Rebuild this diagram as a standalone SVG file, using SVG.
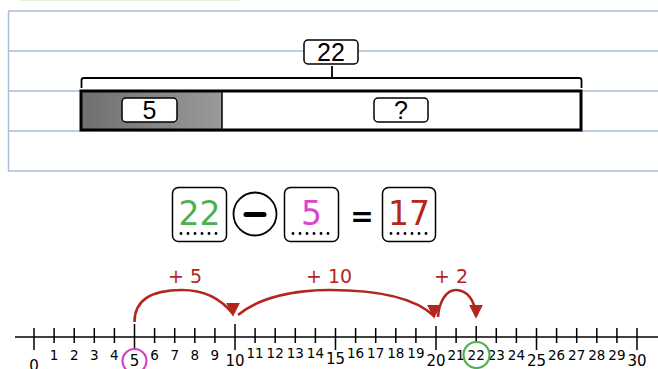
<svg xmlns="http://www.w3.org/2000/svg" width="658" height="369" viewBox="0 0 658 369">
<defs>
<linearGradient id="gray" x1="0" y1="0" x2="1" y2="0">
<stop offset="0" stop-color="#6f6f6f"/><stop offset="1" stop-color="#9a9a9a"/>
</linearGradient>
<marker id="ah" viewBox="0 0 10 10" refX="5" refY="8" markerWidth="16" markerHeight="14" markerUnits="userSpaceOnUse" orient="0">
<path d="M0,0 L10,0 L5,10 Z" fill="#b3261e"/>
</marker>
</defs>
<style>
.grid{stroke:#a9bedb;stroke-width:1.5;fill:none}
.lbl{fill:#fff;stroke:#000;stroke-width:1.5}
.tt{font-family:"Liberation Sans",Arial,sans-serif;font-size:25px;text-anchor:middle;fill:#000}
.eqbox{fill:#fff;stroke:#000;stroke-width:1.5}
.eqt{font-family:"DejaVu Sans","Open Sans",sans-serif;font-size:33px;text-anchor:middle}
.dot{fill:#000}
.arc{fill:none;stroke:#b3261e;stroke-width:2.6}
.pl{font-family:"DejaVu Sans","Open Sans",sans-serif;font-size:19px;fill:#b3261e;text-anchor:middle}
.tk{stroke:#000;stroke-width:1.5}
.nm{font-family:"DejaVu Sans","Open Sans",sans-serif;font-size:13.5px;text-anchor:middle;fill:#000}
.nM{font-family:"DejaVu Sans","Open Sans",sans-serif;font-size:15px;text-anchor:middle;fill:#000}
</style>
<line x1="20" y1="0.5" x2="240" y2="0.5" stroke="#e4efdc" stroke-width="1"/>
<g id="paper">
<path class="grid" d="M8,11H658M8,51H658M8,91H658M8,131H658M8,171H658M8.5,11V171"/>
</g>
<g id="tape">
<rect x="81" y="91" width="141" height="39" fill="url(#gray)"/>
<rect x="222" y="91" width="359" height="39" fill="#fff"/>
<rect x="81" y="91" width="500" height="39" fill="none" stroke="#000" stroke-width="3"/>
<line x1="222" y1="91" x2="222" y2="130" stroke="#000" stroke-width="1.5"/>
<path d="M81.5,88V80Q81.5,78 84,78H579Q581.5,78 581.5,80V88M332,78V66" fill="none" stroke="#000" stroke-width="1.8"/>
</g>
<g id="label-22"><rect class="lbl" x="304" y="40" width="54" height="24" rx="4"/><text class="tt" x="331" y="61">22</text></g>
<g id="label-5"><rect class="lbl" x="122" y="98" width="55" height="24" rx="4"/><text class="tt" x="149.5" y="119">5</text></g>
<g id="label-q"><rect class="lbl" x="374" y="98" width="54" height="24" rx="4"/><text class="tt" x="401" y="119">?</text></g>
<g id="eq-22"><rect class="eqbox" x="172.5" y="187.5" width="54" height="54" rx="6"/><text class="eqt" x="199.5" y="225" fill="#4caf50">22</text>
<g class="dot"><circle cx="181" cy="233.5" r="1.4"/><circle cx="188" cy="233.5" r="1.4"/><circle cx="195" cy="233.5" r="1.4"/><circle cx="202" cy="233.5" r="1.4"/><circle cx="209" cy="233.5" r="1.4"/><circle cx="216" cy="233.5" r="1.4"/></g></g>
<g id="eq-minus"><circle cx="255" cy="214" r="21.5" fill="#fff" stroke="#000" stroke-width="1.8"/><line x1="246" y1="214.5" x2="264" y2="214.5" stroke="#000" stroke-width="5" stroke-linecap="round"/></g>
<g id="eq-5"><rect class="eqbox" x="284.5" y="187.5" width="54" height="54" rx="6"/><text class="eqt" x="311.5" y="225" fill="#dd45cf">5</text>
<g class="dot"><circle cx="293" cy="233.5" r="1.4"/><circle cx="300" cy="233.5" r="1.4"/><circle cx="307" cy="233.5" r="1.4"/><circle cx="314" cy="233.5" r="1.4"/><circle cx="321" cy="233.5" r="1.4"/><circle cx="328" cy="233.5" r="1.4"/></g></g>
<g id="eq-equals"><text x="362" y="226" font-family="DejaVu Sans,sans-serif" font-size="28" font-weight="bold" text-anchor="middle">=</text></g>
<g id="eq-17"><rect class="eqbox" x="382.5" y="187.5" width="53" height="54" rx="6"/><text class="eqt" x="409" y="225" fill="#b3261e">17</text>
<g class="dot"><circle cx="391" cy="233.5" r="1.4"/><circle cx="398" cy="233.5" r="1.4"/><circle cx="405" cy="233.5" r="1.4"/><circle cx="412" cy="233.5" r="1.4"/><circle cx="419" cy="233.5" r="1.4"/><circle cx="426" cy="233.5" r="1.4"/></g></g>
<g id="numberline">
<line x1="15" y1="337" x2="658" y2="337" stroke="#000" stroke-width="1.5"/>
<path class="tk" d="M34,328V350M54.1,328V343M74.2,328V343M94.3,328V343M114.4,328V343M134.5,324V350M154.6,328V343M174.7,328V343M194.8,328V343M214.9,328V343M235,324V350M255.1,328V343M275.2,328V343M295.3,328V343M315.4,328V343M335.5,328V350M355.6,328V343M375.7,328V343M395.8,328V343M415.9,328V343M436,326V350M456.1,328V343M476.2,326V343M496.3,328V343M516.4,328V343M536.5,328V350M556.6,328V343M576.7,328V343M596.8,328V343M616.9,328V343M637,328V350"/>
<text class="nM" x="34" y="371">0</text>
<text class="nm" x="54.1" y="360">1</text><text class="nm" x="74.2" y="360">2</text><text class="nm" x="94.3" y="360">3</text><text class="nm" x="114.4" y="360">4</text>
<text class="nM" x="134.5" y="366" font-size="14">5</text>
<text class="nm" x="154.6" y="360">6</text><text class="nm" x="174.7" y="360">7</text><text class="nm" x="194.8" y="360">8</text><text class="nm" x="214.9" y="360">9</text>
<text class="nM" x="235" y="366">10</text>
<text class="nm" x="255.1" y="358">11</text><text class="nm" x="275.2" y="358">12</text><text class="nm" x="295.3" y="358">13</text><text class="nm" x="315.4" y="358">14</text>
<text class="nM" x="335.5" y="364">15</text>
<text class="nm" x="355.6" y="358">16</text><text class="nm" x="375.7" y="358">17</text><text class="nm" x="395.8" y="358">18</text><text class="nm" x="415.9" y="358">19</text>
<text class="nM" x="436" y="366">20</text>
<text class="nm" x="456.1" y="360">21</text><text class="nm" x="476.2" y="360">22</text><text class="nm" x="496.3" y="360">23</text><text class="nm" x="516.4" y="360">24</text>
<text class="nM" x="536.5" y="366">25</text>
<text class="nm" x="556.6" y="360">26</text><text class="nm" x="576.7" y="360">27</text><text class="nm" x="596.8" y="360">28</text><text class="nm" x="616.9" y="360">29</text>
<text class="nM" x="637" y="366">30</text>
<circle cx="134.5" cy="361" r="12" fill="none" stroke="#d83ccc" stroke-width="2.2"/>
<circle cx="476.5" cy="355" r="13" fill="none" stroke="#4caf50" stroke-width="2.2"/>
</g>
<g id="connectors">
<path class="arc" marker-end="url(#ah)" d="M134.5,322C134.5,300 152,290 182,290C207,290 222,300 233,314"/>
<path class="arc" marker-end="url(#ah)" d="M238,315C260,297 295,290 330,290C380,290 415,298 434,316"/>
<path class="arc" marker-end="url(#ah)" d="M438,317C439,302 446,290 456,290C467,290 475,300 476,316"/>
</g>
<g id="jump-labels">
<text class="pl" x="185" y="283">+ 5</text>
<text class="pl" x="329" y="283">+ 10</text>
<text class="pl" x="451" y="283">+ 2</text>
</g>
</svg>
